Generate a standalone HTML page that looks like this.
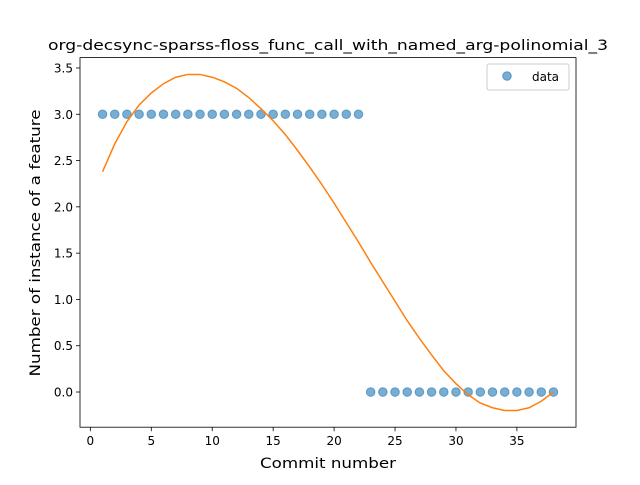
<!DOCTYPE html>
<html><head><meta charset="utf-8"><style>
body{margin:0;background:#fff;}
svg{font-family:"DejaVu Sans","Liberation Sans",sans-serif;}
</style></head><body>
<svg id="chart" width="640" height="480" viewBox="0 0 640 480">
<rect width="640" height="480" fill="#fff"/>
<text x="328" y="50" font-size="14.4" text-anchor="middle" textLength="560" lengthAdjust="spacingAndGlyphs">org-decsync-sparss-floss_func_call_with_named_arg-polinomial_3</text>
<g id="plot"></g>
<text x="328" y="468" font-size="14.4" text-anchor="middle" textLength="136" lengthAdjust="spacingAndGlyphs">Commit number</text>
<text x="40" y="243" font-size="14.4" text-anchor="middle" textLength="267" lengthAdjust="spacingAndGlyphs" transform="rotate(-90 40 243)">Number of instance of a feature</text>
<g>
<rect x="487" y="64" width="82" height="26" rx="2" fill="#fff" stroke="#ccc"/>
<circle cx="507" cy="76" r="4.3" fill="#1f77b4" fill-opacity="0.6" stroke="#1f77b4" stroke-opacity="0.6"/>
<text x="532" y="81" font-size="12">data</text>
</g>
</svg>
<script>
const xsData=[1,2,3,4,5,6,7,8,9,10,11,12,13,14,15,16,17,18,19,20,21,22,23,24,25,26,27,28,29,30,31,32,33,34,35,36,37,38];
const ysData=[3,3,3,3,3,3,3,3,3,3,3,3,3,3,3,3,3,3,3,3,3,3,0,0,0,0,0,0,0,0,0,0,0,0,0,0,0,0];
const fitValues=[2.38,2.68,2.92,3.1,3.23,3.33,3.4,3.43,3.43,3.40,3.35,3.28,3.18,3.06,2.93,2.78,2.61,2.43,2.24,2.04,1.83,1.62,1.40,1.19,0.98,0.77,0.58,0.40,0.23,0.09,-0.03,-0.12,-0.17,-0.20,-0.20,-0.17,-0.10,0.0];
const xTicks=[0,5,10,15,20,25,30,35];
const yTicks=[0,0.5,1,1.5,2,2.5,3,3.5];
const L=80,R=576,T=57.6,B=427.2,X0=-0.85,X1=39.85,Y0=-0.38,Y1=3.612;
const sx=v=>L+(v-X0)/(X1-X0)*(R-L);
const sy=v=>B-(v-Y0)/(Y1-Y0)*(B-T);
const NS="http://www.w3.org/2000/svg";
const g=document.getElementById('plot');
function mk(t,a){const e=document.createElementNS(NS,t);for(const k in a)e.setAttribute(k,a[k]);g.appendChild(e);return e;}
xTicks.forEach(v=>{
 const l=mk('line',{x1:sx(v),x2:sx(v),y1:B,y2:B+4,stroke:'#000','stroke-width':0.8});
 
 
 const t=mk('text',{x:sx(v),y:B+18,'font-size':12,'text-anchor':'middle'});t.textContent=v;
 
 
});
yTicks.forEach(v=>{
 const l=mk('line',{x1:L-4,x2:L,y1:sy(v),y2:sy(v),stroke:'#000','stroke-width':0.8});
 
 
 const t=mk('text',{x:L-7,y:sy(v)+4.5,'font-size':12,'text-anchor':'end'});t.textContent=v.toFixed(1);
 
 
});
xsData.forEach((x,i)=>{
 const c=mk('circle',{cx:sx(x),cy:sy(ysData[i]),r:4.3,fill:'#1f77b4','fill-opacity':0.6,stroke:'#1f77b4','stroke-opacity':0.6,'stroke-width':1});
 
 
});
const p=mk('polyline',{points:xsData.map((x,i)=>sx(x)+','+sy(fitValues[i])).join(' '),fill:'none',stroke:'#ff7f0e','stroke-width':1.5});


const f=mk('rect',{x:L,y:T,width:R-L,height:B-T,fill:'none',stroke:'#000','stroke-width':0.8});


</script>
</body></html>
